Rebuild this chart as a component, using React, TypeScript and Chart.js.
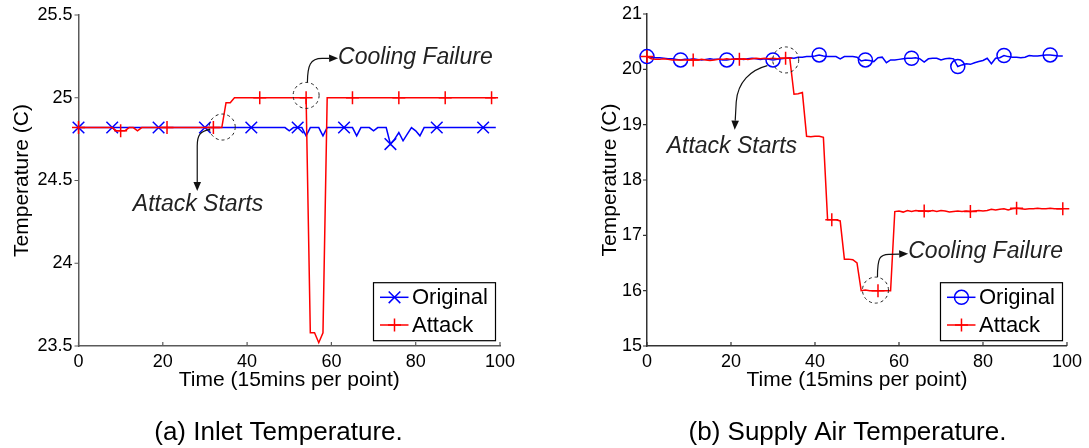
import React, { useEffect, useRef } from "react";
import { Chart, registerables } from "chart.js";

Chart.register(...registerables);

const FONT = "'Liberation Sans', 'Helvetica Neue', Arial, sans-serif";
const BLUE = "#0000ff";
const RED = "#ff0000";
const AXIS_COLOR = "#4a4a4a";

// ---------- data ----------
const timePoints = Array.from({ length: 100 }, (_, i) => i);
const xTicks = [0, 20, 40, 60, 80, 100];
const seriesNames = ["Original", "Attack"];
const xTitle = "Time (15mins per point)";
const yTitle = "Temperature (C)";
const captions = ["(a) Inlet Temperature.", "(b) Supply Air Temperature."];

const inletYTicks = [23.5, 24, 24.5, 25, 25.5];
const inletOriginal = [
  24.82, 24.82, 24.82, 24.82, 24.82, 24.82, 24.82, 24.82, 24.82, 24.82,
  24.82, 24.82, 24.82, 24.82, 24.82, 24.82, 24.82, 24.82, 24.82, 24.82,
  24.82, 24.82, 24.82, 24.82, 24.82, 24.82, 24.82, 24.82, 24.82, 24.82,
  24.82, 24.82, 24.82, 24.82, 24.82, 24.82, 24.82, 24.82, 24.82, 24.82,
  24.82, 24.82, 24.82, 24.82, 24.82, 24.82, 24.82, 24.82, 24.82, 24.82,
  24.80, 24.82, 24.82, 24.82, 24.77, 24.82, 24.82, 24.82, 24.77, 24.82,
  24.82, 24.82, 24.82, 24.82, 24.82, 24.82, 24.77, 24.82, 24.82, 24.82,
  24.80, 24.82, 24.82, 24.82, 24.72, 24.75, 24.79, 24.74, 24.78, 24.82,
  24.80, 24.77, 24.82, 24.82, 24.82, 24.82, 24.82, 24.82, 24.82, 24.82,
  24.82, 24.82, 24.82, 24.82, 24.82, 24.82, 24.82, 24.82, 24.82, 24.82,
];
const inletAttack = [
  24.82, 24.82, 24.82, 24.82, 24.82, 24.82, 24.82, 24.82, 24.82, 24.80,
  24.80, 24.80, 24.82, 24.82, 24.80, 24.82, 24.82, 24.82, 24.82, 24.82,
  24.82, 24.82, 24.82, 24.82, 24.82, 24.82, 24.82, 24.82, 24.82, 24.82,
  24.82, 24.82, 24.82, 24.82, 24.82, 24.97, 24.97, 25.0, 25.0, 25.0,
  25.0, 25.0, 25.0, 25.0, 25.0, 25.0, 25.0, 25.0, 25.0, 25.0,
  25.0, 25.0, 25.0, 25.0, 25.0, 23.58, 23.58, 23.52, 23.58, 25.0,
  25.0, 25.0, 25.0, 25.0, 25.0, 25.0, 25.0, 25.0, 25.0, 25.0,
  25.0, 25.0, 25.0, 25.0, 25.0, 25.0, 25.0, 25.0, 25.0, 25.0,
  25.0, 25.0, 25.0, 25.0, 25.0, 25.0, 25.0, 25.0, 25.0, 25.0,
  25.0, 25.0, 25.0, 25.0, 25.0, 25.0, 25.0, 25.0, 25.0, 25.0,
];
const inletOriginalMarkers = [0, 8, 19, 30, 41, 52, 63, 74, 85, 96];
const inletAttackMarkers = [0, 10, 21, 32, 43, 54, 65, 76, 87, 98];

const supplyYTicks = [15, 16, 17, 18, 19, 20, 21];
const supplyOriginal = [
  20.23, 20.22, 20.21, 20.21, 20.20, 20.19, 20.19, 20.18, 20.17, 20.18,
  20.18, 20.19, 20.18, 20.17, 20.18, 20.19, 20.18, 20.18, 20.17, 20.17,
  20.18, 20.19, 20.19, 20.18, 20.19, 20.20, 20.19, 20.18, 20.19, 20.18,
  20.17, 20.18, 20.19, 20.20, 20.21, 20.20, 20.22, 20.22, 20.23, 20.23,
  20.24, 20.26, 20.24, 20.23, 20.23, 20.23, 20.19, 20.23, 20.23, 20.23,
  20.22, 20.15, 20.17, 20.16, 20.14, 20.21, 20.22, 20.12, 20.17, 20.17,
  20.18, 20.19, 20.20, 20.20, 20.21, 20.19, 20.13, 20.19, 20.20, 20.20,
  20.17, 20.19, 20.20, 20.19, 20.05, 20.08, 20.10, 20.09, 20.12, 20.14,
  20.16, 20.20, 20.10, 20.20, 20.21, 20.25, 20.23, 20.22, 20.22, 20.21,
  20.22, 20.25, 20.24, 20.24, 20.25, 20.26, 20.26, 20.25, 20.24, 20.24,
];
const supplyAttack = [
  20.23, 20.19, 20.18, 20.18, 20.19, 20.18, 20.17, 20.17, 20.17, 20.17,
  20.17, 20.17, 20.17, 20.18, 20.17, 20.16, 20.17, 20.18, 20.18, 20.19,
  20.18, 20.18, 20.18, 20.19, 20.18, 20.19, 20.20, 20.19, 20.20, 20.19,
  20.20, 20.19, 20.20, 20.20, 20.20, 19.55, 19.56, 19.58, 18.79, 18.78,
  18.79, 18.79, 18.77, 17.28, 17.28, 17.28, 17.26, 16.57, 16.57, 16.56,
  16.50, 16.00, 16.01, 16.00, 16.00, 16.00, 16.00, 16.00, 16.00, 17.43,
  17.44, 17.42, 17.45, 17.43, 17.45, 17.44, 17.44, 17.43, 17.45, 17.43,
  17.45, 17.44, 17.42, 17.43, 17.44, 17.43, 17.44, 17.43, 17.44, 17.45,
  17.44, 17.45, 17.47, 17.46, 17.47, 17.48, 17.46, 17.48, 17.49, 17.48,
  17.47, 17.48, 17.48, 17.49, 17.48, 17.48, 17.49, 17.48, 17.48, 17.48,
];
const supplyOriginalMarkers = [0, 8, 19, 30, 41, 52, 63, 74, 85, 96];
const supplyAttackMarkers = [0, 11, 22, 33, 44, 55, 66, 77, 88, 99];

// ---------- annotations (anchored in data coords, arrow shape in px offsets) ----------
type Pt = [number, number];
interface Note {
  text: string;
  textX: number;
  textY: number;
  align: CanvasTextAlign;
  circleX: number;
  circleY: number;
  start: Pt;
  c1: Pt;
  c2: Pt;
  end: Pt;
  tip: Pt;
}

const inletNotes: Note[] = [
  {
    text: "Attack Starts", textX: 28.35, textY: 24.354, align: "center",
    circleX: 34.1, circleY: 24.823,
    start: [-12, 2.3], c1: [-22, 4], c2: [-25, 8], end: [-25, 19], tip: [-25, 64],
  },
  {
    text: "Cooling Failure", textX: 61.57, textY: 25.24, align: "left",
    circleX: 54.0, circleY: 25.014,
    start: [1.3, -13.3], c1: [1.5, -30], c2: [4, -37], end: [16, -37], tip: [32, -37.3],
  },
];
const supplyNotes: Note[] = [
  {
    text: "Attack Starts", textX: 20.2, textY: 18.6, align: "center",
    circleX: 33.03, circleY: 20.17,
    start: [-18.4, 5.7], c1: [-35, 10], c2: [-48, 22], end: [-49.5, 42], tip: [-51, 69.7],
  },
  {
    text: "Cooling Failure", textX: 62.2, textY: 16.7, align: "left",
    circleX: 54.4, circleY: 16.01,
    start: [2, -13], c1: [2, -32], c2: [4, -36], end: [14, -35.8], tip: [32.7, -36.3],
  },
];

type MarkerStyle = "crossRot" | "circle" | "cross";

interface PanelSpec {
  caption: string;
  original: number[];
  attack: number[];
  originalMarkers: number[];
  attackMarkers: number[];
  originalStyle: MarkerStyle;
  originalRadius: number;
  yTicks: number[];
  notes: Note[];
  left: number;
  width: number;
  yAxisWidth: number;
  yTitlePad: number;
  yTickPad: number;
  rightPad: number;
  axisColor: string;
}

function drawMarker(ctx: CanvasRenderingContext2D, style: MarkerStyle, x: number, y: number, r: number) {
  ctx.beginPath();
  if (style === "circle") {
    ctx.arc(x, y, r, 0, Math.PI * 2);
  } else if (style === "cross") {
    ctx.moveTo(x - r, y);
    ctx.lineTo(x + r, y);
    ctx.moveTo(x, y - r);
    ctx.lineTo(x, y + r);
  } else {
    const d = r * Math.SQRT1_2;
    ctx.moveTo(x - d, y - d);
    ctx.lineTo(x + d, y + d);
    ctx.moveTo(x - d, y + d);
    ctx.lineTo(x + d, y - d);
  }
  ctx.stroke();
}

function makeDecor(spec: PanelSpec) {
  return {
    id: "decor",
    afterDraw(chart: any) {
      const ctx: CanvasRenderingContext2D = chart.ctx;
      const ca = chart.chartArea;
      const xs = chart.scales.x;
      const ys = chart.scales.y;
      ctx.save();

      // tick marks (x inward, y outward)
      ctx.strokeStyle = spec.axisColor;
      ctx.lineWidth = 1.2;
      ctx.setLineDash([]);
      ctx.beginPath();
      xTicks.forEach((v) => {
        const px = xs.getPixelForValue(v);
        ctx.moveTo(px, ca.bottom);
        ctx.lineTo(px, ca.bottom - 4);
      });
      spec.yTicks.forEach((v) => {
        const py = ys.getPixelForValue(v);
        ctx.moveTo(ca.left - 4, py);
        ctx.lineTo(ca.left, py);
      });
      ctx.stroke();

      // annotations
      spec.notes.forEach((n) => {
        const cx = xs.getPixelForValue(n.circleX);
        const cy = ys.getPixelForValue(n.circleY);
        ctx.strokeStyle = "#222";
        ctx.lineWidth = 1;
        ctx.setLineDash([3, 3]);
        ctx.beginPath();
        ctx.arc(cx, cy, 13, 0, Math.PI * 2);
        ctx.stroke();
        ctx.setLineDash([]);

        const P = (p: Pt): Pt => [cx + p[0], cy + p[1]];
        const s = P(n.start), c1 = P(n.c1), c2 = P(n.c2), e = P(n.end), t = P(n.tip);
        const ang = Math.atan2(t[1] - e[1], t[0] - e[0]);
        const head = 9;
        const bx = t[0] - Math.cos(ang) * head;
        const by = t[1] - Math.sin(ang) * head;
        ctx.lineWidth = 1.2;
        ctx.strokeStyle = "#111";
        ctx.beginPath();
        ctx.moveTo(s[0], s[1]);
        ctx.bezierCurveTo(c1[0], c1[1], c2[0], c2[1], e[0], e[1]);
        ctx.lineTo(bx, by);
        ctx.stroke();
        const w = 3.8;
        ctx.fillStyle = "#111";
        ctx.beginPath();
        ctx.moveTo(t[0], t[1]);
        ctx.lineTo(bx + Math.sin(ang) * w, by - Math.cos(ang) * w);
        ctx.lineTo(bx - Math.sin(ang) * w, by + Math.cos(ang) * w);
        ctx.closePath();
        ctx.fill();

        ctx.fillStyle = "#222";
        ctx.font = `italic 23px ${FONT}`;
        ctx.textAlign = n.align;
        ctx.textBaseline = "middle";
        ctx.fillText(n.text, xs.getPixelForValue(n.textX), ys.getPixelForValue(n.textY));
      });

      // legend
      const bw = 122, bh = 58;
      const bxL = ca.right - 4.5 - bw;
      const byT = ca.bottom - 5.3 - bh;
      ctx.fillStyle = "#fff";
      ctx.fillRect(bxL, byT, bw, bh);
      ctx.strokeStyle = "#000";
      ctx.lineWidth = 1.2;
      ctx.strokeRect(bxL, byT, bw, bh);
      const entries: { color: string; style: MarkerStyle; r: number }[] = [
        { color: BLUE, style: spec.originalStyle, r: spec.originalRadius },
        { color: RED, style: "cross", r: 6.5 },
      ];
      entries.forEach((en, i) => {
        const cy = byT + 14.6 + i * 27.7;
        ctx.strokeStyle = en.color;
        ctx.lineWidth = 1.5;
        ctx.beginPath();
        ctx.moveTo(bxL + 6.5, cy);
        ctx.lineTo(bxL + 35, cy);
        ctx.stroke();
        drawMarker(ctx, en.style, bxL + 21, cy, en.r);
        ctx.fillStyle = "#000";
        ctx.font = `22px ${FONT}`;
        ctx.textAlign = "left";
        ctx.textBaseline = "middle";
        ctx.fillText(seriesNames[i], bxL + 38.5, cy + 1);
      });

      // caption
      ctx.fillStyle = "#000";
      ctx.font = `26px ${FONT}`;
      ctx.textAlign = "center";
      ctx.textBaseline = "middle";
      ctx.fillText(spec.caption, 278.5, 432.4);

      ctx.restore();
    },
  };
}

function Panel({ spec }: { spec: PanelSpec }) {
  const ref = useRef<HTMLCanvasElement>(null);
  useEffect(() => {
    const canvas = ref.current;
    if (!canvas) return;
    const mk = (markers: number[], r: number) => timePoints.map((i) => (markers.includes(i) ? r : 0));
    const chart = new Chart(canvas, {
      type: "line",
      data: {
        datasets: [
          {
            label: seriesNames[0],
            data: spec.original.map((v, i) => ({ x: timePoints[i], y: v })),
            borderColor: BLUE,
            borderWidth: 1.5,
            pointStyle: spec.originalStyle,
            pointRadius: mk(spec.originalMarkers, spec.originalRadius),
            pointBorderColor: BLUE,
            pointBackgroundColor: "rgba(0,0,0,0)",
            pointBorderWidth: 1.5,
            tension: 0,
            fill: false,
            clip: false,
            order: 1,
          } as any,
          {
            label: seriesNames[1],
            data: spec.attack.map((v, i) => ({ x: timePoints[i], y: v })),
            borderColor: RED,
            borderWidth: 1.5,
            pointStyle: "cross",
            pointRadius: mk(spec.attackMarkers, 6.5),
            pointBorderColor: RED,
            pointBackgroundColor: "rgba(0,0,0,0)",
            pointBorderWidth: 1.5,
            tension: 0,
            fill: false,
            clip: false,
            order: 0,
          } as any,
        ],
      },
      options: {
        responsive: false,
        animation: false,
        devicePixelRatio: 1,
        events: [],
        layout: { padding: { top: 13.5, bottom: 57, left: 0, right: spec.rightPad } },
        plugins: {
          legend: { display: false },
          tooltip: { enabled: false },
          title: { display: false },
        },
        scales: {
          x: {
            type: "linear",
            min: 0,
            max: 100,
            afterBuildTicks: (s: any) => {
              s.ticks = xTicks.map((v) => ({ value: v }));
            },
            afterFit: (s: any) => {
              s.height = 45;
            },
            grid: { display: false, drawTicks: false },
            border: { display: true, color: spec.axisColor, width: 1.5 },
            ticks: {
              color: "#000",
              font: { family: FONT, size: 18, lineHeight: 1 },
              padding: 7,
              maxRotation: 0,
              autoSkip: false,
              callback: (v: any) => String(v),
            },
            title: {
              display: true,
              text: xTitle,
              color: "#000",
              font: { family: FONT, size: 21, lineHeight: 1 },
              padding: { top: 0, bottom: 0 },
            },
          },
          y: {
            type: "linear",
            min: spec.yTicks[0],
            max: spec.yTicks[spec.yTicks.length - 1],
            afterBuildTicks: (s: any) => {
              s.ticks = spec.yTicks.map((v) => ({ value: v }));
            },
            afterFit: (s: any) => {
              s.width = spec.yAxisWidth;
            },
            grid: { display: false, drawTicks: false },
            border: { display: true, color: spec.axisColor, width: 1.5 },
            ticks: {
              color: "#000",
              font: { family: FONT, size: 18, lineHeight: 1 },
              padding: spec.yTickPad,
              autoSkip: false,
              callback: (v: any) => String(v),
            },
            title: {
              display: true,
              text: yTitle,
              color: "#000",
              font: { family: FONT, size: 21, lineHeight: 1.2 },
              padding: { top: spec.yTitlePad, bottom: 0 },
            },
          },
        },
      } as any,
      plugins: [makeDecor(spec) as any],
    });
    return () => chart.destroy();
  }, [spec]);
  return (
    <canvas
      ref={ref}
      width={spec.width}
      height={448}
      style={{ position: "absolute", left: spec.left, top: 0, width: spec.width, height: 448, display: "block" }}
    />
  );
}

const inletSpec: PanelSpec = {
  caption: captions[0],
  original: inletOriginal,
  attack: inletAttack,
  originalMarkers: inletOriginalMarkers,
  attackMarkers: inletAttackMarkers,
  originalStyle: "crossRot",
  originalRadius: 8.2,
  yTicks: inletYTicks,
  notes: inletNotes,
  left: 0,
  width: 560,
  yAxisWidth: 78.5,
  yTitlePad: 9.6,
  yTickPad: 6,
  rightPad: 60,
  axisColor: "#5a5a5a",
};

const supplySpec: PanelSpec = {
  caption: captions[1],
  original: supplyOriginal,
  attack: supplyAttack,
  originalMarkers: supplyOriginalMarkers,
  attackMarkers: supplyAttackMarkers,
  originalStyle: "circle",
  originalRadius: 7,
  yTicks: supplyYTicks,
  notes: supplyNotes,
  left: 569,
  width: 520,
  yAxisWidth: 78,
  yTitlePad: 28.4,
  yTickPad: 5,
  rightPad: 19,
  axisColor: "#333333",
};

export default function App() {
  return (
    <div
      style={{
        position: "fixed",
        left: 0,
        top: 0,
        width: 1089,
        height: 448,
        overflow: "hidden",
        background: "#fff",
      }}
    >
      <Panel spec={inletSpec} />
      <Panel spec={supplySpec} />
    </div>
  );
}
